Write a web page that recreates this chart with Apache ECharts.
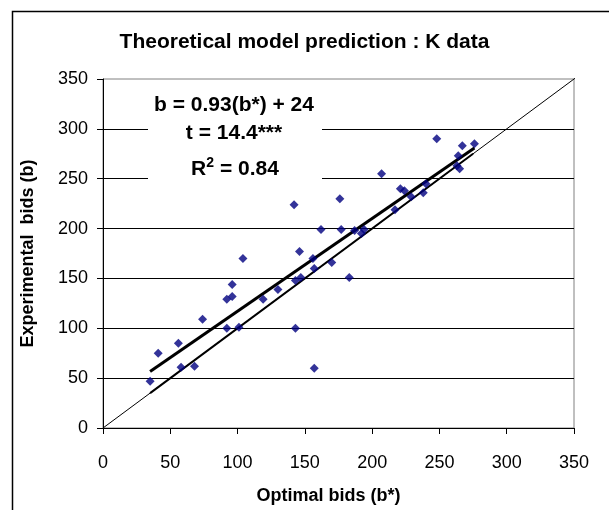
<!DOCTYPE html>
<html>
<head>
<meta charset="utf-8">
<script src="https://cdn.jsdelivr.net/npm/echarts@6/dist/echarts.min.js"></script>
<style>html,body{margin:0;padding:0;background:#fff;}#c{width:609px;height:510px;}</style>
</head>
<body>
<div id="c"></div>
<script>
// Optimal bids (b*) and experimental bids (b)
const optimalBids = [35, 41, 56, 58, 68, 74, 92, 92, 96, 96, 101, 104, 119, 130, 142, 143, 143, 146, 147, 156, 157, 157, 162, 170, 176, 177, 183, 187, 192, 194, 207, 217, 221, 224, 229, 238, 240, 248, 263, 264, 265, 267, 276];
const experimentalBids = [47, 75, 85, 61, 62, 109, 100, 129, 132, 144, 101, 170, 129, 139, 224, 100, 148, 177, 151, 170, 160, 60, 199, 166, 230, 199, 151, 198, 195, 199, 255, 219, 240, 238, 232, 236, 245, 290, 263, 273, 260, 283, 285];
// Fitted regression line endpoints (b = 0.93 b* + 24)
const regX = [35, 276];
const regY = [56.6, 280.7];
// 45-degree reference line
const diagX = [0, 355];
const diagY = [0, 355];
const diagSegX = [35, 275];
const diagSegY = [35, 275];
const axisTicks = [0, 50, 100, 150, 200, 250, 300, 350];
const titleText = 'Theoretical model prediction : K data';
const xTitle = 'Optimal bids (b*)';
const yTitle = 'Experimental  bids (b)';
const annotLine1 = 'b = 0.93(b*) + 24';
const annotLine2 = 't = 14.4***';
const annotR = 'R';
const annotSup = '2';
const annotRest = ' = 0.84';

const FONT = '"Liberation Sans", Arial, sans-serif';
const pairs = (xs, ys) => xs.map((x, i) => [x, ys[i]]);

const chart = echarts.init(document.getElementById('c'), null, {renderer: 'canvas'});
chart.setOption({
  animation: false,
  backgroundColor: '#fff',
  title: {
    text: titleText,
    left: 'center',
    top: 27,
    textStyle: {fontFamily: FONT, fontWeight: 'bold', fontSize: 21, color: '#000'}
  },
  grid: {left: 103, right: 35, top: 79, bottom: 82, show: true, borderColor: '#808080', borderWidth: 1, backgroundColor: 'transparent'},
  xAxis: {
    type: 'value', min: axisTicks[0], max: axisTicks[axisTicks.length - 1], interval: 50,
    name: xTitle, nameLocation: 'middle', nameGap: 59,
    nameTextStyle: {fontFamily: FONT, fontWeight: 'bold', fontSize: 18, color: '#000', padding: [0, 20, 0, 0]},
    axisLine: {show: true, onZero: false, lineStyle: {color: '#000', width: 1}},
    axisTick: {show: true, inside: false, length: 6, lineStyle: {color: '#000'}},
    axisLabel: {fontFamily: FONT, fontSize: 18, color: '#000', margin: 26},
    splitLine: {show: false}
  },
  yAxis: {
    type: 'value', min: axisTicks[0], max: axisTicks[axisTicks.length - 1], interval: 50,
    name: yTitle, nameLocation: 'middle', nameGap: 66, nameRotate: 90,
    nameTextStyle: {fontFamily: FONT, fontWeight: 'bold', fontSize: 18, color: '#000'},
    axisLine: {show: true, onZero: false, lineStyle: {color: '#000', width: 1}},
    axisTick: {show: true, inside: false, length: 6, lineStyle: {color: '#000'}},
    axisLabel: {fontFamily: FONT, fontSize: 18, color: '#000', margin: 15},
    splitLine: {show: true, showMaxLine: false, lineStyle: {color: '#000', width: 1}}
  },
  series: [
    {type: 'line', data: pairs(diagX, diagY), symbol: 'none', clip: false, lineStyle: {color: '#000', width: 1}, z: 3},
    {type: 'line', data: pairs(diagSegX, diagSegY), symbol: 'none', clip: false, lineStyle: {color: '#000', width: 2}, z: 3},
    {type: 'line', data: pairs(regX, regY), symbol: 'none', clip: false, lineStyle: {color: '#000', width: 3}, z: 3},
    {type: 'scatter', data: pairs(optimalBids, experimentalBids), symbol: 'diamond', symbolSize: 9,
     itemStyle: {color: '#000080'}, z: 5}
  ],
  graphic: [
    {type: 'rect', silent: true, z: 10, shape: {x: 148, y: 88, width: 174, height: 98}, style: {fill: '#fff'}},
    {type: 'text', silent: true, z: 11, x: 234, y: 105,
     style: {text: annotLine1, font: 'bold 21px ' + FONT, fill: '#000', textAlign: 'center', textVerticalAlign: 'middle', align: 'center', verticalAlign: 'middle'}},
    {type: 'text', silent: true, z: 11, x: 234, y: 133,
     style: {text: annotLine2, font: 'bold 21px ' + FONT, fill: '#000', textAlign: 'center', textVerticalAlign: 'middle', align: 'center', verticalAlign: 'middle'}},
    {type: 'text', silent: true, z: 11, x: 235, y: 168,
     style: {text: '{a|' + annotR + '}{s|' + annotSup + '}{a|' + annotRest + '}',
       rich: {a: {font: 'bold 21px ' + FONT, fill: '#000', color: '#000', lineHeight: 24, verticalAlign: 'bottom'},
              s: {font: 'bold 14px ' + FONT, fill: '#000', color: '#000', lineHeight: 24, verticalAlign: 'top', padding: [0, 0, 10, 0]}},
       textAlign: 'center', textVerticalAlign: 'middle', align: 'center', verticalAlign: 'middle'}},
    {type: 'rect', silent: true, z: 100, shape: {x: 12.5, y: 11.5, width: 700, height: 600}, style: {fill: 'none', stroke: '#000', lineWidth: 1.5}}
  ]
});
</script>
</body>
</html>
